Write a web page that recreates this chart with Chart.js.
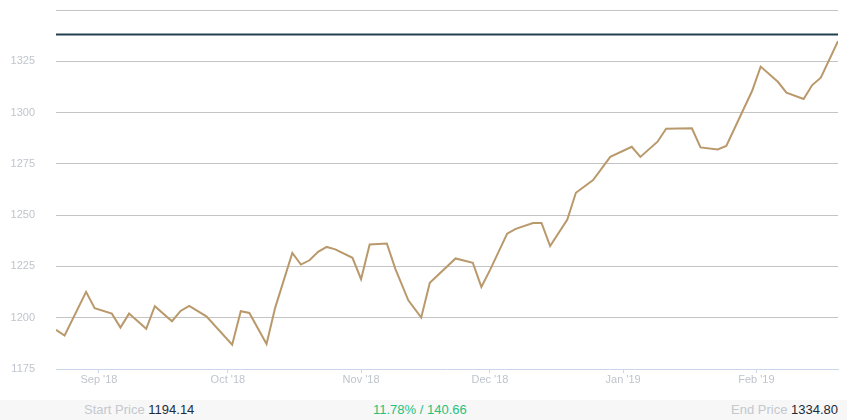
<!DOCTYPE html>
<html>
<head>
<meta charset="utf-8">
<script src="https://cdn.jsdelivr.net/npm/chart.js@4/dist/chart.umd.min.js"></script>
<style>
  html, body { margin: 0; padding: 0; background: #fff; }
  body { width: 847px; height: 420px; position: relative; overflow: hidden; font-family: "Liberation Sans", Arial, sans-serif; }
  #wrap { position: absolute; left: 0; top: 0; width: 847px; height: 400px; }
  #footer { position: absolute; left: 0; top: 400px; width: 847px; height: 20px; background: #f7f7f7; font-size: 13px; line-height: 20px; }
  #footer span.lbl { color: #c3c8cf; }
  #footer span.val { color: #1d2b3a; }
  #start { position: absolute; left: 84px; top: 0; }
  #change { position: absolute; left: 373px; top: 0; color: #25c27f; }
  #end { position: absolute; right: 9px; top: 0; }
</style>
</head>
<body>
<div id="wrap"><canvas id="priceChart" width="847" height="400"></canvas></div>
<div id="footer">
  <div id="start"><span class="lbl">Start Price</span> <span class="val" id="start-price"></span></div>
  <div id="change"></div>
  <div id="end"><span class="lbl">End Price</span> <span class="val" id="end-price"></span></div>
</div>
<script>
// price series
const dates = [
  '2018-08-22', '2018-08-24', '2018-08-29', '2018-08-31', '2018-09-04', '2018-09-06',
  '2018-09-08', '2018-09-12', '2018-09-14', '2018-09-18', '2018-09-20', '2018-09-22',
  '2018-09-26', '2018-10-02', '2018-10-04', '2018-10-06', '2018-10-10', '2018-10-12',
  '2018-10-16', '2018-10-18', '2018-10-20', '2018-10-22', '2018-10-24', '2018-10-26',
  '2018-10-30', '2018-11-01', '2018-11-03', '2018-11-07', '2018-11-09', '2018-11-12',
  '2018-11-15', '2018-11-17', '2018-11-23', '2018-11-27', '2018-11-29', '2018-12-01',
  '2018-12-05', '2018-12-07', '2018-12-11', '2018-12-13', '2018-12-15', '2018-12-19',
  '2018-12-21', '2018-12-25', '2018-12-29', '2019-01-03', '2019-01-05', '2019-01-09',
  '2019-01-11', '2019-01-17', '2019-01-19', '2019-01-23', '2019-01-25', '2019-01-31',
  '2019-02-02', '2019-02-06', '2019-02-08', '2019-02-12', '2019-02-14', '2019-02-16',
  '2019-02-20'
];
const prices = [
  1194.14, 1191.3, 1212.6, 1204.6, 1202.0, 1195.2,
  1202.0, 1194.6, 1205.6, 1198.3, 1203.3, 1205.8,
  1200.7, 1186.8, 1203.2, 1202.3, 1187.2, 1204.8,
  1231.6, 1225.9, 1228.0, 1232.1, 1234.5, 1233.3,
  1229.2, 1218.8, 1235.7, 1236.2, 1223.7, 1208.5,
  1200.1, 1217.0, 1228.9, 1226.8, 1215.0, 1223.2,
  1241.0, 1243.3, 1246.2, 1246.2, 1234.9, 1247.9,
  1260.9, 1267.1, 1278.4, 1283.3, 1278.4, 1285.8,
  1292.1, 1292.3, 1283.0, 1282.0, 1283.7, 1310.5,
  1322.4, 1315.0, 1309.7, 1306.6, 1313.4, 1317.0,
  1334.80
];
const highLevel = 1338;
const monthTicks = ['2018-09-01', '2018-10-01', '2018-11-01', '2018-12-01', '2019-01-01', '2019-02-01'];
const monthLabels = ["Sep '18", "Oct '18", "Nov '18", "Dec '18", "Jan '19", "Feb '19"];
const yTicks = [1175, 1200, 1225, 1250, 1275, 1300, 1325, 1350];

const DAY = 86400000;
const base = Date.UTC(2018, 8, 1);
function toDay(s) {
  const p = s.split('-');
  return (Date.UTC(+p[0], +p[1] - 1, +p[2]) - base) / DAY;
}

const points = dates.map((d, i) => ({ x: toDay(d), y: prices[i] }));
const xMin = points[0].x;
const xMax = points[points.length - 1].x;
const monthDays = monthTicks.map(toDay);

const startPrice = prices[0];
const endPrice = prices[prices.length - 1];
const diff = endPrice - startPrice;
document.getElementById('start-price').textContent = startPrice.toFixed(2);
document.getElementById('end-price').textContent = endPrice.toFixed(2);
document.getElementById('change').textContent =
  (diff / startPrice * 100).toFixed(2) + '% / ' + diff.toFixed(2);

const ctx = document.getElementById('priceChart').getContext('2d');
new Chart(ctx, {
  type: 'line',
  data: {
    datasets: [{
      data: points,
      borderColor: '#b9996b',
      borderWidth: 2,
      pointRadius: 0,
      tension: 0
    }, {
      data: [{ x: xMin, y: highLevel }, { x: xMax, y: highLevel }],
      borderColor: '#22404d',
      borderWidth: 2,
      pointRadius: 0
    }]
  },
  options: {
    responsive: false,
    animation: false,
    layout: { padding: { top: 10, right: 9, left: 0, bottom: 0 } },
    plugins: { legend: { display: false }, tooltip: { enabled: false } },
    scales: {
      x: {
        type: 'linear',
        min: xMin,
        max: xMax,
        afterBuildTicks: axis => { axis.ticks = monthDays.map(v => ({ value: v })); },
        afterFit: axis => { axis.height = 31; axis.paddingLeft = 0; axis.paddingRight = 0; },
        border: { display: true, color: '#ccd6eb', width: 1 },
        grid: { drawOnChartArea: false, drawTicks: true, tickLength: 4, color: '#ccd6eb' },
        ticks: {
          autoSkip: false,
          maxRotation: 0,
          padding: 0,
          color: '#bfc5cc',
          font: { family: '"Liberation Sans", Arial, sans-serif', size: 11 },
          callback: (v) => monthLabels[monthDays.indexOf(v)]
        }
      },
      y: {
        min: 1175,
        max: 1350,
        afterBuildTicks: axis => { axis.ticks = yTicks.map(v => ({ value: v })); },
        afterFit: axis => { axis.width = 56; axis.paddingTop = 0; axis.paddingBottom = 0; },
        border: { display: false },
        grid: {
          drawTicks: false,
          color: c => c.tick.value === 1175 ? 'rgba(0,0,0,0)' : '#c4c4c4'
        },
        ticks: {
          padding: 21,
          color: '#bfc5cc',
          font: { family: '"Liberation Sans", Arial, sans-serif', size: 11 },
          callback: v => v === 1350 ? '' : v
        }
      }
    }
  }
});
</script>
</body>
</html>
